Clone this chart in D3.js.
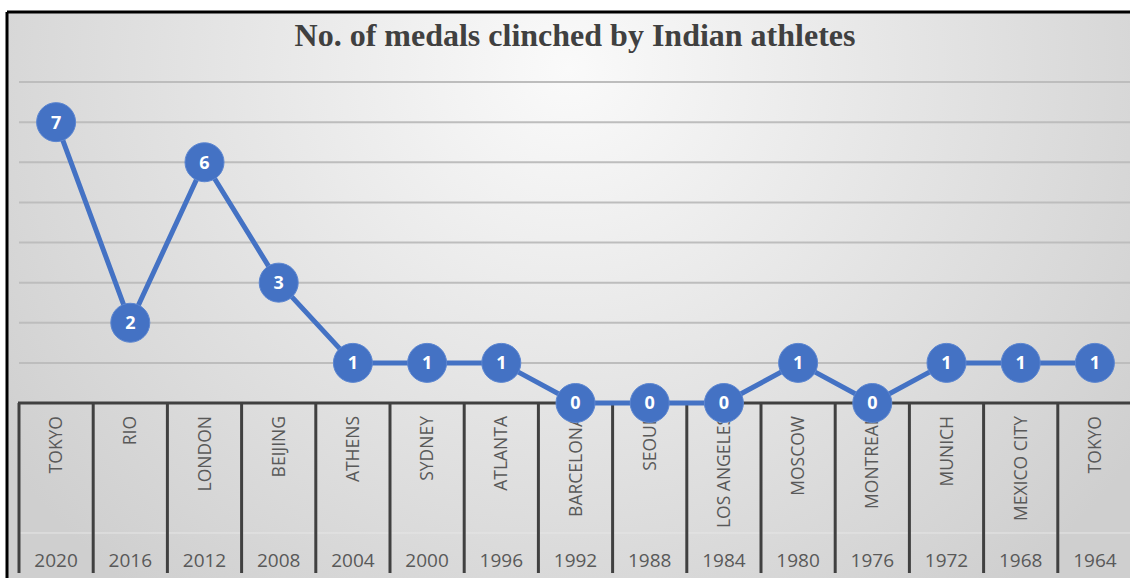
<!DOCTYPE html>
<html>
<head>
<meta charset="utf-8">
<script src="https://cdn.jsdelivr.net/npm/d3@7"></script>
<style>
  body { margin: 0; background: #fff; }
</style>
</head>
<body>
<svg id="chart"></svg>
<script>
// data
const cities = ["TOKYO", "RIO", "LONDON", "BEIJING", "ATHENS", "SYDNEY", "ATLANTA", "BARCELONA",
  "SEOUL", "LOS ANGELES", "MOSCOW", "MONTREAL", "MUNICH", "MEXICO CITY", "TOKYO"];
const years = ["2020", "2016", "2012", "2008", "2004", "2000", "1996", "1992",
  "1988", "1984", "1980", "1976", "1972", "1968", "1964"];
const medals = [7, 2, 6, 3, 1, 1, 1, 0, 0, 0, 1, 0, 1, 1, 1];
const yTicks = [1, 2, 3, 4, 5, 6, 7, 8];
const title = "No. of medals clinched by Indian athletes";

const width = 1130;
const height = 578;
const frame = { left: 7, top: 12 };
const plot = { left: 19, right: 1132, top: 82, bottom: 403 };
const axisBottom = 573;

const svg = d3.select("#chart")
  .attr("width", width)
  .attr("height", height);

// background gradient (light in the middle, grey on the sides)
const defs = svg.append("defs");
const grad = defs.append("radialGradient")
  .attr("id", "bg")
  .attr("cx", "50%").attr("cy", "10%")
  .attr("r", "62%")
  .attr("fx", "50%").attr("fy", "10%")
  .attr("gradientTransform", "translate(0.5,0.1) scale(1,1.9) translate(-0.5,-0.1)");
grad.append("stop").attr("offset", "0%").attr("stop-color", "#fafafa");
grad.append("stop").attr("offset", "100%").attr("stop-color", "#cfcfcf");

svg.append("rect")
  .attr("x", frame.left).attr("y", frame.top)
  .attr("width", width - frame.left).attr("height", height - frame.top)
  .attr("fill", "url(#bg)");

// frame border (top and left only visible)
svg.append("line")
  .attr("x1", frame.left).attr("x2", width)
  .attr("y1", frame.top).attr("y2", frame.top)
  .attr("stroke", "#000").attr("stroke-width", 3);
svg.append("line")
  .attr("x1", frame.left).attr("x2", frame.left)
  .attr("y1", frame.top).attr("y2", height)
  .attr("stroke", "#000").attr("stroke-width", 3);

// scales
const x = d3.scaleBand()
  .domain(d3.range(years.length))
  .range([plot.left, plot.right])
  .padding(0);

const y = d3.scaleLinear()
  .domain([0, 8])
  .range([plot.bottom, plot.top]);

// gridlines
svg.append("g")
  .selectAll("line")
  .data(yTicks)
  .join("line")
  .attr("x1", plot.left)
  .attr("x2", width)
  .attr("y1", d => y(d))
  .attr("y2", d => y(d))
  .attr("stroke", "#bdbdbd")
  .attr("stroke-width", 2);

// title
svg.append("text")
  .attr("x", 575)
  .attr("y", 46)
  .attr("text-anchor", "middle")
  .attr("font-family", "'Liberation Serif', 'Times New Roman', serif")
  .attr("font-weight", "bold")
  .attr("font-size", 32)
  .attr("fill", "#404040")
  .text(title);

// category axis: faint separator between the two label rows
svg.append("line")
  .attr("x1", plot.left).attr("x2", width)
  .attr("y1", 533).attr("y2", 533)
  .attr("stroke", "#e6e6e6").attr("stroke-width", 1);

// dividers
svg.append("g")
  .selectAll("line")
  .data(d3.range(years.length))
  .join("line")
  .attr("x1", d => x(d))
  .attr("x2", d => x(d))
  .attr("y1", plot.bottom)
  .attr("y2", axisBottom)
  .attr("stroke", "#404040")
  .attr("stroke-width", 3);

// axis line
svg.append("line")
  .attr("x1", plot.left - 1).attr("x2", width)
  .attr("y1", y(0)).attr("y2", y(0))
  .attr("stroke", "#404040")
  .attr("stroke-width", 3);

// city labels (rotated)
svg.append("g")
  .selectAll("text")
  .data(cities)
  .join("text")
  .attr("transform", (d, i) => `translate(${x(i) + x.bandwidth() / 2 + 6},416) rotate(-90)`)
  .attr("text-anchor", "end")
  .attr("font-family", "'Open Sans', sans-serif")
  .attr("font-size", 17.5)
  .attr("fill", "#595959")
  .text(d => d);

// year labels
svg.append("g")
  .selectAll("text")
  .data(years)
  .join("text")
  .attr("x", (d, i) => x(i) + x.bandwidth() / 2)
  .attr("y", 567)
  .attr("text-anchor", "middle")
  .attr("font-family", "'Open Sans', sans-serif")
  .attr("font-size", 19)
  .attr("fill", "#595959")
  .text(d => d);

// line
const line = d3.line()
  .x((d, i) => x(i) + x.bandwidth() / 2)
  .y(d => y(d));

svg.append("path")
  .datum(medals)
  .attr("d", line)
  .attr("fill", "none")
  .attr("stroke", "#4472c4")
  .attr("stroke-width", 5)
  .attr("stroke-linejoin", "round");

// markers
const pts = svg.append("g")
  .selectAll("g")
  .data(medals)
  .join("g")
  .attr("transform", (d, i) => `translate(${x(i) + x.bandwidth() / 2},${y(d)})`);

pts.append("circle")
  .attr("r", 19.5)
  .attr("fill", "#4472c4")
  .attr("stroke", "#5c86d1")
  .attr("stroke-width", 1);

pts.append("text")
  .attr("text-anchor", "middle")
  .attr("dy", "0.36em")
  .attr("font-family", "'Open Sans', sans-serif")
  .attr("font-weight", "bold")
  .attr("font-size", 18)
  .attr("fill", "#fff")
  .text(d => d);
</script>
</body>
</html>
